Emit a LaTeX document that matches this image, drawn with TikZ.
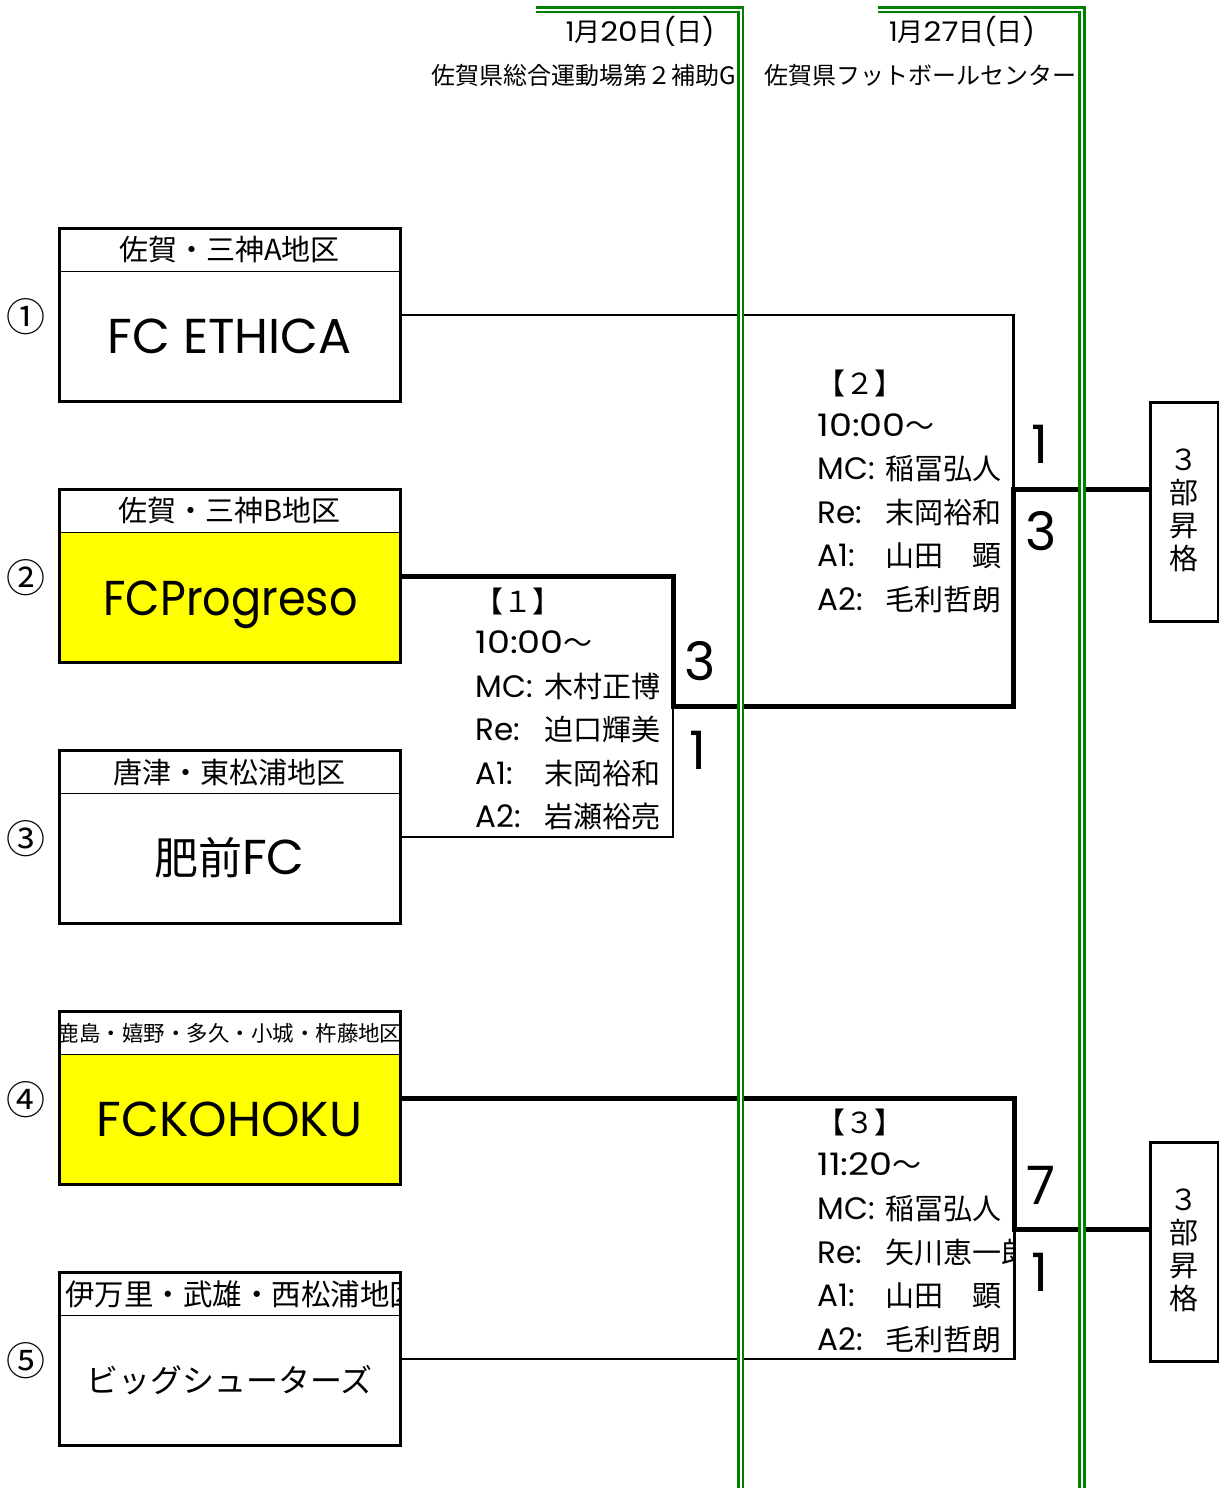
\documentclass[tikz,border=0pt]{standalone}
\usepackage{fontspec}
\usepackage{graphicx}
\setmainfont{Noto Sans CJK JP}
\newfontfamily\lat{Poppins}
\definecolor{dgreen}{RGB}{0,128,0}
\definecolor{tyellow}{RGB}{255,255,0}
\newcommand\fsz[1]{\fontsize{#1}{#1}\selectfont}
\newcommand\LT[1]{{\lat\fsz{13.5}#1}}
\tikzset{
  teambox/.style={draw, line width=1.5pt, minimum width=170.5pt, minimum height=86.5pt, inner sep=0pt, outer sep=0pt},
  promobox/.style={draw, line width=1.5pt, minimum width=34pt, minimum height=109.5pt, inner sep=0pt, outer sep=0pt},
  divider/.style={line width=0.6pt},
  region/.style={inner sep=0pt, font=\fsz{14.5}},
  tname/.style={inner sep=0pt, font=\lat\fsz{24.5}},
  circnum/.style={inner sep=0pt, font=\fsz{19.5}},
  info/.style={inner sep=0pt, anchor=base west, font=\fsz{14.5}},
  infolab/.style={inner sep=0pt, anchor=base west, font=\lat\fsz{15.5}},
  score/.style={inner sep=0pt, font=\lat\fsz{26.5}},
  hdr/.style={inner sep=0pt, font=\fsz{12}},
  promotext/.style={inner sep=0pt, align=center, font=\fontsize{14.5}{16.5}\selectfont},
  win/.style={line width=2.5pt, line join=miter},
  lose/.style={line width=1.35pt, line join=miter},
  gline/.style={draw=dgreen, double=white, line width=1.35pt, double distance=1pt, line join=miter}
}
\begin{document}
\begin{tikzpicture}[x=0.5pt,y=-0.5pt]
\useasboundingbox[fill=white] (0,0) rectangle (1219,1488);

% header
\node[hdr, font=\fsz{13}] (d1) at (640,31) {\LT{1}月\LT{\scalebox{1.15}[1]{20}}日\LT{(}日\LT{)}};
\node[hdr, anchor=east] (v1) at (736,75) {佐賀県総合運動場第２補助G};
\node[hdr, font=\fsz{13}] (d2) at (962,31) {\LT{1}月\LT{\scalebox{1.15}[1]{27}}日\LT{(}日\LT{)}};
\node[hdr] (v2) at (920,75) {佐賀県フットボールセンター};

% yellow fills
\fill[tyellow] (59,532.5) rectangle (400,662.5);
\fill[tyellow] (59,1054.5) rectangle (400,1184.5);

% team boxes
\node[teambox] (t1) at (229.5,315) {};
\node[teambox] (t2) at (229.5,576) {};
\node[teambox] (t3) at (229.5,837) {};
\node[teambox] (t4) at (229.5,1098) {};
\node[teambox] (t5) at (229.5,1359) {};
\foreach \ty in {228.5,489.5,750.5,1011.5,1272.5}
  \draw[divider] (59,\ty+43) -- (400,\ty+43);

% region labels
\node[region] (r1) at (229.5,250) {佐賀・三神A地区};
\node[region] (r2) at (229.5,511) {佐賀・三神B地区};
\node[region] (r3) at (229.5,772) {唐津・東松浦地区};
\begin{scope}
  \clip (60.5,1013) rectangle (398.5,1054);
  \node[region, font=\fsz{10.75}] (r4) at (229.5,1033) {鹿島・嬉野・多久・小城・杵藤地区};
\end{scope}
\begin{scope}
  \clip (60.5,1274) rectangle (398.5,1315);
  \node[region, font=\fsz{14.75}, anchor=west] (r5) at (65,1294) {伊万里・武雄・西松浦地区};
\end{scope}

% team names
\node[tname] (n1) at (229.5,336) {FC ETHICA};
\node[tname, anchor=base] (n2) at (230.5,615) {\scalebox{0.91}[1]{FCProgreso}};
\node[tname, font=\fsz{22}] (n3) at (229.5,858) {肥前{\lat\fsz{24.5}FC}};
\node[tname] (n4) at (229.5,1119) {FCKOHOKU};
\node[tname, font=\fsz{16}] (n5) at (229.5,1380) {ビッグシューターズ};

% seeds
\node[circnum] (c1) at (26,317) {①};
\node[circnum] (c2) at (26,578) {②};
\node[circnum] (c3) at (26,839) {③};
\node[circnum] (c4) at (26,1100) {④};
\node[circnum] (c5) at (26,1361) {⑤};

% promotion boxes
\node[promobox] (p1) at (1184,511.5) {};
\node[promotext] (pt1) at (1184,510.5) {３\\部\\昇\\格};
\node[promobox] (p2) at (1184,1251.5) {};
\node[promotext] (pt2) at (1184,1250.5) {３\\部\\昇\\格};

% junctions
\coordinate (j1) at (673,706.5);
\coordinate (j2) at (1013.5,489);
\coordinate (j3) at (1014.5,1229.5);

% match info 1
\node[info] (h1) at (474,612) {【１】};
\node[info] (k1) at (475,653) {{\lat\fsz{15.5}\scalebox{1.18}[1]{10:00}}～};
\foreach \lab/\nm [count=\i from 0] in {MC:/木村正博,Re:/迫口輝美,A1:/末岡裕和,A2:/岩瀬裕亮}{
  \node[infolab] (ma\i) at (475,{697+43.5*\i}) {\lab};
  \node[info] (mn\i) at (544,{697+43.5*\i}) {\nm};
}
% match info 2
\node[info] (h2) at (816,394) {【２】};
\node[info] (k2) at (817,436) {{\lat\fsz{15.5}\scalebox{1.18}[1]{10:00}}～};
\foreach \lab/\nm [count=\i from 0] in {MC:/稲冨弘人,Re:/末岡裕和,A1:/山田　顕,A2:/毛利哲朗}{
  \node[infolab] (qa\i) at (817,{479.5+43.6*\i}) {\lab};
  \node[info] (qn\i) at (885,{479.5+43.6*\i}) {\nm};
}
% match info 3
\begin{scope}
\clip (750,1100) rectangle (1012,1370);
\node[info] (h3) at (816,1133) {【３】};
\node[info] (k3) at (817,1175) {{\lat\fsz{15.5}\scalebox{1.18}[1]{11:20}}～};
\foreach \lab/\nm [count=\i from 0] in {MC:/稲冨弘人,Re:/矢川恵一郎,A1:/山田　顕,A2:/毛利哲朗}{
  \node[infolab] (wa\i) at (817,{1219.5+43.6*\i}) {\lab};
  \node[info] (wn\i) at (885,{1219.5+43.6*\i}) {\nm};
}
\end{scope}

% bracket lines
\draw[lose] (t3.east) -| (j1);
\draw[lose] (t1.east) -| (j2);
\draw[win] (t2.east) -| (j1) -| (j2) -- (j2 -| p1.west);
\draw[lose] (t5.east) -| (j3);
\draw[win] (t4.east) -| (j3) -- (j3 -| p2.west);

% scores
\node[score] (s1a) at (700,661.5) {3};
\node[score] (s1b) at (698,750) {1};
\node[score] (s2a) at (1040,444) {1};
\node[score] (s2b) at (1041,531.5) {3};
\node[score] (s3a) at (1041,1185) {7};
\node[score] (s3b) at (1040,1272) {1};

% green rails
\draw[gline] (536,9.7) -- (740.5,9.7) -- (740.5,1492);
\draw[gline] (878,9.7) -- (1082,9.7) -- (1082,1492);
\end{tikzpicture}
\end{document}
